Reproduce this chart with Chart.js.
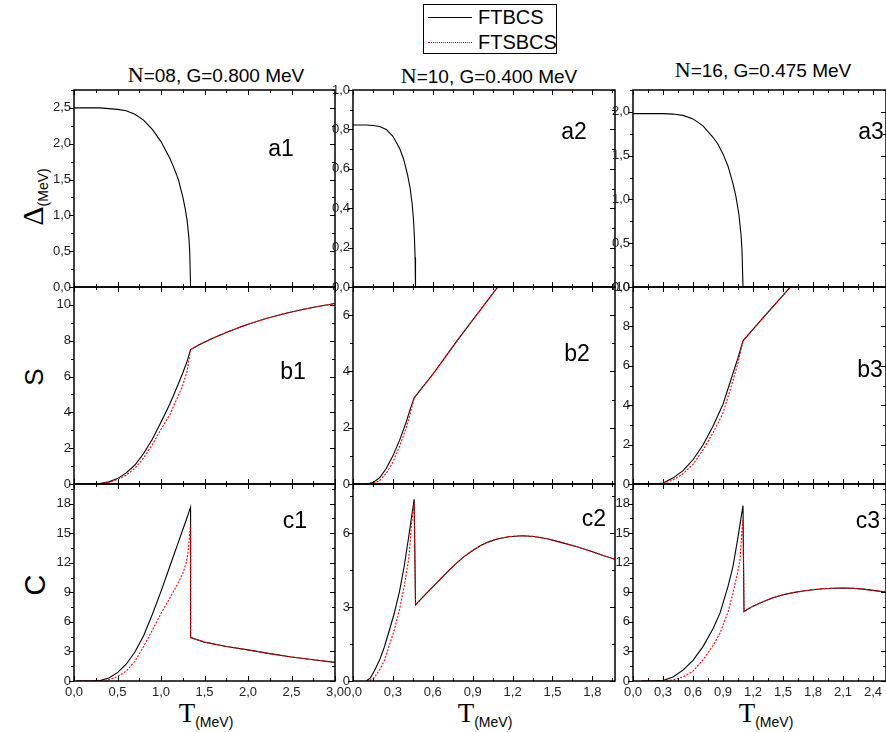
<!DOCTYPE html>
<html>
<head>
<meta charset="utf-8">
<script src="https://cdn.jsdelivr.net/npm/chart.js@4.4.0/dist/chart.umd.min.js"></script>
<style>
  body { margin: 0; width: 886px; height: 732px; overflow: hidden; background: #fff;
         position: relative; font-family: "Liberation Sans", Arial, sans-serif; color: #000; }
  canvas { position: absolute; }
  .txt { position: absolute; transform: translate(-50%, -50%); white-space: nowrap; }
  .title { font-size: 19px; }
  .serif { font-family: "Liberation Serif", "Times New Roman", serif; }
  .tag { font-size: 23px; }
  .ytitle { position: absolute; transform: translate(-50%, -50%) rotate(-90deg); white-space: nowrap; }
  .sub { font-size: 14px; font-family: "Liberation Sans", Arial, sans-serif; position: relative; top: 5px; }
  #legend { position: absolute; left: 423px; top: 4px; width: 132px; height: 48px; border: 1px solid #000; }
  #legend .row { position: absolute; left: 4px; height: 22px; font-size: 20px; line-height: 22px; }
  #legend .sample { position: absolute; left: 0; top: 11px; width: 44px; }
  #legend span { position: absolute; left: 50px; top: 0; }
</style>
</head>
<body>

<div id="legend">
  <div class="row" style="top:1px"><div class="sample" style="border-top:1px solid #000"></div><span>FTBCS</span></div>
  <div class="row" style="top:26px"><div class="sample" style="border-top:1px dotted #f00"></div><span>FTSBCS</span></div>
</div>

<div class="txt title" style="left:216px; top:75px"><span class="serif" style="font-size:22px">N</span>=08, G=0.800 MeV</div>
<div class="txt title" style="left:489px; top:76px"><span class="serif" style="font-size:22px">N</span>=10, G=0.400 MeV</div>
<div class="txt title" style="left:763px; top:70px"><span class="serif" style="font-size:22px">N</span>=16, G=0.475 MeV</div>

<div class="ytitle" style="left:33px; top:197px"><span class="serif" style="font-size:30px">&Delta;</span><span class="sub">(MeV)</span></div>
<div class="ytitle" style="left:34px; top:377px; font-size:26px">S</div>
<div class="ytitle" style="left:35px; top:585px; font-size:29px">C</div>

<div class="txt" style="left:206px; top:713px"><span class="serif" style="font-size:27px">T</span><span class="sub">(MeV)</span></div>
<div class="txt" style="left:485px; top:713px"><span class="serif" style="font-size:27px">T</span><span class="sub">(MeV)</span></div>
<div class="txt" style="left:766px; top:713px"><span class="serif" style="font-size:27px">T</span><span class="sub">(MeV)</span></div>

<script>
// ---- N=08, G=0.800 MeV ----
const a1T = [0, 0.2, 0.3, 0.4, 0.5, 0.6, 0.7, 0.8, 0.9, 1.0, 1.1, 1.15, 1.2, 1.25, 1.28, 1.3, 1.32, 1.33, 1.34, 3.0];
const a1Gap = [2.5, 2.5, 2.5, 2.49, 2.48, 2.46, 2.41, 2.33, 2.2, 2.03, 1.8, 1.66, 1.5, 1.26, 1.08, 0.93, 0.7, 0.5, 0, 0];

const b1T = [0.03, 0.2, 0.3, 0.4, 0.5, 0.6, 0.7, 0.8, 0.9, 1.0, 1.1, 1.2, 1.25, 1.3, 1.34, 1.45, 1.6, 1.8, 2.0, 2.2, 2.4, 2.6, 2.8, 3.0];
const b1FTBCS = [0, 0, 0.03, 0.12, 0.3, 0.62, 1.06, 1.7, 2.5, 3.45, 4.45, 5.6, 6.2, 6.85, 7.51, 7.8, 8.15, 8.56, 8.92, 9.23, 9.49, 9.72, 9.91, 10.08];
const b1FTSBCS = [0, 0, 0.02, 0.1, 0.25, 0.5, 0.88, 1.45, 2.2, 3.05, 3.85, 4.95, 5.5, 6.3, 7.51, 7.8, 8.15, 8.56, 8.92, 9.23, 9.49, 9.72, 9.91, 10.08];

const c1T = [0.03, 0.2, 0.3, 0.4, 0.5, 0.6, 0.7, 0.8, 0.9, 1.0, 1.1, 1.2, 1.25, 1.29, 1.31, 1.33, 1.34, 1.34, 1.5, 1.75, 2.0, 2.25, 2.5, 2.75, 3.0];
const c1FTBCS = [0, 0, 0.05, 0.3, 0.85, 1.7, 2.95, 4.6, 6.75, 9.1, 11.6, 14.1, 15.35, 16.35, 16.85, 17.4, 17.65, 4.41, 3.95, 3.5, 3.16, 2.78, 2.43, 2.15, 1.89];
const c1FTSBCS = [0, 0, 0.02, 0.12, 0.45, 1.0, 2.0, 3.5, 5.15, 6.85, 8.4, 10.0, 10.9, 12.0, 13.0, 15.0, 15.86, 4.41, 3.95, 3.5, 3.16, 2.78, 2.43, 2.15, 1.89];

// ---- N=10, G=0.400 MeV ----
const a2T = [0, 0.1, 0.15, 0.2, 0.25, 0.3, 0.35, 0.38, 0.41, 0.43, 0.445, 0.455, 0.462, 0.467, 0.47, 1.97];
const a2Gap = [0.822, 0.822, 0.82, 0.815, 0.8, 0.765, 0.705, 0.65, 0.57, 0.5, 0.42, 0.34, 0.25, 0.15, 0, 0];

const b2T = [0.1, 0.15, 0.2, 0.25, 0.3, 0.35, 0.4, 0.43, 0.46, 0.6, 0.8, 1.0, 1.2];
const b2FTBCS = [0, 0.05, 0.22, 0.55, 1.0, 1.55, 2.2, 2.65, 3.06, 3.9, 5.2, 6.45, 7.7];
const b2FTSBCS = [0, 0.02, 0.12, 0.38, 0.78, 1.33, 2.0, 2.5, 3.06, 3.9, 5.2, 6.45, 7.7];

const c2T = [0.1, 0.13, 0.16, 0.2, 0.235, 0.27, 0.31, 0.35, 0.385, 0.42, 0.44, 0.46, 0.47, 0.52, 0.585, 0.65, 0.71, 0.77, 0.835, 0.9, 0.96, 1.02, 1.085, 1.17, 1.27, 1.36, 1.46, 1.585, 1.685, 1.785, 1.88, 1.97];
const c2FTBCS = [0, 0.12, 0.41, 0.85, 1.37, 2.0, 2.74, 3.65, 4.66, 5.9, 6.65, 7.38, 3.09, 3.38, 3.74, 4.1, 4.43, 4.75, 5.05, 5.3, 5.5, 5.65, 5.77, 5.86, 5.9, 5.87, 5.78, 5.6, 5.45, 5.28, 5.1, 4.94];
const c2FTSBCS = [0, 0.03, 0.14, 0.45, 0.82, 1.4, 2.06, 2.9, 3.84, 5.0, 6.4, 7.2, 3.09, 3.38, 3.74, 4.1, 4.43, 4.75, 5.05, 5.3, 5.5, 5.65, 5.77, 5.86, 5.9, 5.87, 5.78, 5.6, 5.45, 5.28, 5.1, 4.94];

// ---- N=16, G=0.475 MeV ----
const a3T = [0, 0.2, 0.3, 0.4, 0.5, 0.6, 0.7, 0.8, 0.85, 0.9, 0.95, 1.0, 1.03, 1.06, 1.08, 1.09, 1.1, 2.53];
const a3Gap = [1.98, 1.98, 1.98, 1.975, 1.96, 1.92, 1.84, 1.71, 1.63, 1.52, 1.38, 1.18, 1.03, 0.82, 0.6, 0.42, 0, 0];

const b3T = [0.09, 0.2, 0.3, 0.4, 0.5, 0.6, 0.7, 0.8, 0.9, 1.0, 1.05, 1.1, 1.3, 1.5, 1.7];
const b3FTBCS = [0, 0, 0.05, 0.3, 0.68, 1.23, 1.98, 2.93, 4.05, 5.62, 6.4, 7.27, 8.43, 9.58, 10.73];
const b3FTSBCS = [0, 0, 0.03, 0.2, 0.52, 1.0, 1.73, 2.6, 3.6, 5.25, 6.15, 7.27, 8.43, 9.58, 10.73];

const c3T = [0.09, 0.2, 0.3, 0.4, 0.5, 0.6, 0.7, 0.8, 0.87, 0.95, 1.0, 1.05, 1.07, 1.09, 1.1, 1.11, 1.2, 1.3, 1.4, 1.5, 1.6, 1.7, 1.8, 1.9, 2.0, 2.1, 2.2, 2.3, 2.4, 2.53];
const c3FTBCS = [0, 0, 0.05, 0.4, 1.1, 2.1, 3.49, 5.3, 6.89, 9.6, 11.63, 14.6, 15.9, 17.2, 17.8, 7.05, 7.6, 8.05, 8.45, 8.75, 8.97, 9.13, 9.27, 9.36, 9.42, 9.44, 9.41, 9.33, 9.2, 9.02];
const c3FTSBCS = [0, 0, 0, 0.12, 0.4, 1.0, 2.14, 3.6, 4.85, 7.0, 8.92, 11.2, 12.3, 15.4, 16.4, 7.05, 7.6, 8.05, 8.45, 8.75, 8.97, 9.13, 9.27, 9.36, 9.42, 9.44, 9.41, 9.33, 9.2, 9.02];

// ---- axes (one entry per column, rows a / b / c) ----
const xMax = [3.0, 1.97, 2.53];
const xStep = [0.5, 0.3, 0.3];
const yMax = [[2.75, 11, 20], [1.0, 7, 8], [2.25, 10, 20]];
const yStep = [[0.5, 2, 3], [0.2, 2, 3], [0.5, 2, 3]];

// pixel frame of every plot area
const colEdges = [[74, 335], [353, 615], [633, 886]];
const rowEdges = [[90, 287], [287, 484], [484, 681]];
const tags = [["a1", "b1", "c1"], ["a2", "b2", "c2"], ["a3", "b3", "c3"]];
const tagPos = [[[281, 148], [293, 371], [295, 520]], [[574, 131], [577, 353], [594, 518]], [[871, 131], [870, 369], [868, 520]]];

const pts = (xs, ys) => xs.map((x, i) => ({ x: x, y: ys[i] }));

const series = [
  [[pts(a1T, a1Gap)], [pts(b1T, b1FTBCS), pts(b1T, b1FTSBCS)], [pts(c1T, c1FTBCS), pts(c1T, c1FTSBCS)]],
  [[pts(a2T, a2Gap)], [pts(b2T, b2FTBCS), pts(b2T, b2FTSBCS)], [pts(c2T, c2FTBCS), pts(c2T, c2FTSBCS)]],
  [[pts(a3T, a3Gap)], [pts(b3T, b3FTBCS), pts(b3T, b3FTSBCS)], [pts(c3T, c3FTBCS), pts(c3T, c3FTSBCS)]],
];

// Frame with major/minor ticks on all four sides
const frameTicks = {
  id: "frameTicks",
  afterDatasetsDraw(chart, args, opts) {
    const { ctx, chartArea: a, scales } = chart;
    const xs = scales.x, ys = scales.y;
    ctx.save();
    ctx.strokeStyle = "#000";
    ctx.lineWidth = 1;
    ctx.beginPath();
    const nx = Math.floor(xs.max / opts.xMinor + 1e-6);
    for (let i = 0; i <= nx; i++) {
      const px = Math.round(xs.getPixelForValue(i * opts.xMinor)) + 0.5;
      const len = i % 2 === 0 ? 5 : 3;
      ctx.moveTo(px, a.bottom); ctx.lineTo(px, a.bottom - len);
      ctx.moveTo(px, a.top); ctx.lineTo(px, a.top + len);
    }
    const ny = Math.floor(ys.max / opts.yMinor + 1e-6);
    for (let i = 0; i <= ny; i++) {
      const py = Math.round(ys.getPixelForValue(i * opts.yMinor)) + 0.5;
      const len = i % 2 === 0 ? 5 : 3;
      ctx.moveTo(a.left, py); ctx.lineTo(a.left - len, py);
      ctx.moveTo(a.right, py); ctx.lineTo(a.right - len, py);
    }
    ctx.stroke();
    ctx.lineWidth = 1.5;
    ctx.strokeRect(a.left, a.top, a.right - a.left, a.bottom - a.top);
    ctx.restore();
  },
};

const tickFont = { family: "'Liberation Sans', Arial, sans-serif", size: 13 };
const comma = (v) => v.toFixed(1).replace(".", ",");

function makePanel(col, row) {
  const [L, R] = colEdges[col];
  const [T, B] = rowEdges[row];
  const padL = 50, padT = 10, padR = 12;
  const padB = row === 2 ? 26 : 10;

  const canvas = document.createElement("canvas");
  canvas.width = R - L + padL + padR;
  canvas.height = B - T + padT + padB;
  canvas.style.left = L - padL + "px";
  canvas.style.top = T - padT + "px";
  document.body.appendChild(canvas);

  const lines = series[col][row];
  const datasets = [{
    label: "FTBCS", data: lines[0], borderColor: "#000", borderWidth: 1.1,
    pointRadius: 0, tension: 0, order: 1,
  }];
  if (lines[1]) {
    datasets.push({
      label: "FTSBCS", data: lines[1], borderColor: "#ff0000", borderWidth: 1.1,
      borderDash: [2, 1.5], pointRadius: 0, tension: 0, order: 0,
    });
  }

  new Chart(canvas.getContext("2d"), {
    type: "line",
    data: { datasets: datasets },
    plugins: [frameTicks],
    options: {
      responsive: false,
      animation: false,
      devicePixelRatio: 1,
      events: [],
      layout: { padding: { left: 0, top: padT, right: padR, bottom: 0 } },
      plugins: {
        legend: { display: false },
        tooltip: { enabled: false },
        frameTicks: { xMinor: xStep[col] / 2, yMinor: yStep[col][row] / 2 },
      },
      scales: {
        x: {
          type: "linear", min: 0, max: xMax[col],
          afterFit(s) { s.height = padB; s.paddingLeft = 0; s.paddingRight = 0; },
          grid: { display: false, drawTicks: false },
          border: { display: false },
          ticks: {
            display: row === 2, stepSize: xStep[col], includeBounds: false, autoSkip: false,
            maxRotation: 0, padding: 4, font: tickFont, color: "#222", callback: comma,
          },
        },
        y: {
          type: "linear", min: 0, max: yMax[col][row],
          afterFit(s) { s.width = padL; s.paddingTop = 0; s.paddingBottom = 0; },
          grid: { display: false, drawTicks: false },
          border: { display: false },
          ticks: {
            stepSize: yStep[col][row], includeBounds: false, autoSkip: false, padding: 3,
            font: tickFont, color: "#222",
            callback: (v) => (row === 0 ? comma(v) : String(v)),
          },
        },
      },
    },
  });

  // panel tag (a1, b2, ...)
  const tag = document.createElement("div");
  tag.className = "txt tag";
  tag.textContent = tags[col][row];
  tag.style.left = tagPos[col][row][0] + "px";
  tag.style.top = tagPos[col][row][1] + "px";
  document.body.appendChild(tag);
}

for (let col = 0; col < 3; col++) {
  for (let row = 0; row < 3; row++) makePanel(col, row);
}
</script>
</body>
</html>
